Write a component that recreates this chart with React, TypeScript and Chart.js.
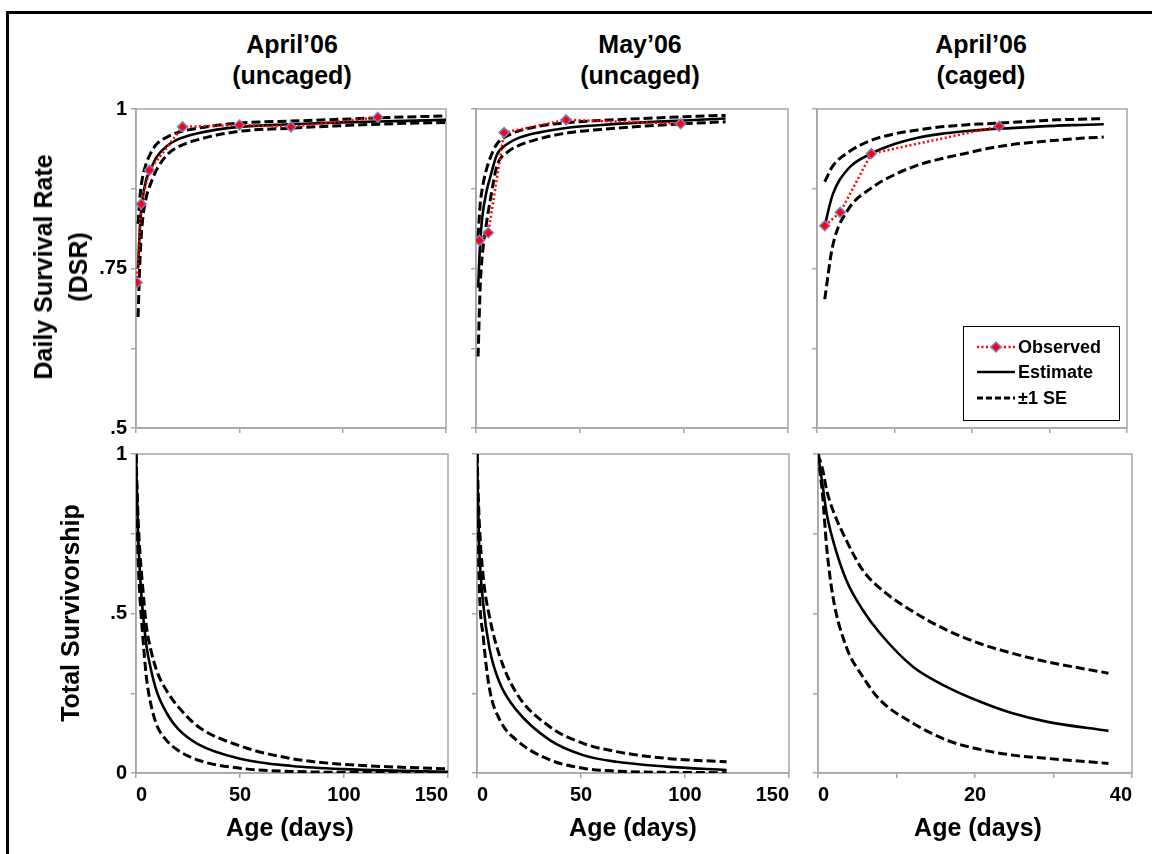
import React, { useEffect, useRef } from "react";
import { Chart, registerables } from "chart.js";
Chart.register(...registerables);

// ---------- DATA ----------
// Top row: Daily Survival Rate (DSR)
const aprUncObsAge = [0.5, 2.5, 6.5, 22.5, 50, 75, 117];
const aprUncObsDsr = [0.728, 0.851, 0.904, 0.972, 0.975, 0.972, 0.987];
const aprUncDsrAge = [1, 2, 3, 5, 7, 10, 15, 20, 30, 50, 75, 100, 125, 150];
const aprUncDsrEst = [0.75, 0.82, 0.855, 0.89, 0.905, 0.925, 0.942, 0.952, 0.962, 0.972, 0.976, 0.979, 0.981, 0.983];
const aprUncDsrUp = [0.82, 0.865, 0.89, 0.915, 0.93, 0.945, 0.956, 0.963, 0.97, 0.978, 0.981, 0.984, 0.987, 0.989];
const aprUncDsrLo = [0.674, 0.77, 0.82, 0.862, 0.882, 0.905, 0.928, 0.94, 0.952, 0.965, 0.97, 0.974, 0.977, 0.979];

const mayUncObsAge = [1.6, 5.9, 13.5, 43.3, 98.4];
const mayUncObsDsr = [0.794, 0.806, 0.963, 0.983, 0.977];
const mayUncDsrAge = [1, 2, 3, 5, 7, 10, 15, 20, 30, 45, 60, 80, 100, 120];
const mayUncDsrEst = [0.72, 0.79, 0.83, 0.87, 0.895, 0.928, 0.945, 0.954, 0.963, 0.971, 0.975, 0.979, 0.982, 0.985];
const mayUncDsrUp = [0.8, 0.85, 0.875, 0.905, 0.925, 0.945, 0.958, 0.965, 0.973, 0.979, 0.982, 0.985, 0.988, 0.99];
const mayUncDsrLo = [0.612, 0.72, 0.77, 0.82, 0.86, 0.91, 0.932, 0.942, 0.953, 0.963, 0.968, 0.973, 0.977, 0.98];

const aprCagObsAge = [1, 3, 7, 23.5];
const aprCagObsDsr = [0.817, 0.838, 0.93, 0.973];
const aprCagDsrAge = [1, 2, 4, 7, 10, 13, 16, 19, 22, 25, 28, 31, 34, 37];
const aprCagDsrEst = [0.817, 0.865, 0.906, 0.93, 0.945, 0.955, 0.961, 0.965, 0.968, 0.97, 0.972, 0.974, 0.975, 0.976];
const aprCagDsrUp = [0.886, 0.91, 0.932, 0.951, 0.961, 0.967, 0.972, 0.975, 0.977, 0.979, 0.981, 0.983, 0.984, 0.985];
const aprCagDsrLo = [0.702, 0.784, 0.842, 0.876, 0.897, 0.912, 0.922, 0.93, 0.938, 0.944, 0.948, 0.951, 0.954, 0.956];

// Bottom row: Total Survivorship
const aprUncSurvAge = [0, 1, 2, 3, 5, 7, 10, 15, 20, 30, 50, 75, 100, 150];
const aprUncSurvEst = [1, 0.75, 0.615, 0.525, 0.4, 0.33, 0.255, 0.185, 0.14, 0.09, 0.045, 0.022, 0.012, 0.004];
const aprUncSurvUp = [1, 0.8, 0.68, 0.6, 0.46, 0.39, 0.32, 0.255, 0.21, 0.145, 0.085, 0.045, 0.027, 0.013];
const aprUncSurvLo = [1, 0.68, 0.54, 0.45, 0.3, 0.22, 0.15, 0.1, 0.072, 0.04, 0.015, 0.005, 0.002, 0.001];

const mayUncSurvAge = [0, 1, 3, 6, 11, 19, 35, 51, 67, 91, 120];
const mayUncSurvEst = [1, 0.72, 0.53, 0.39, 0.281, 0.197, 0.103, 0.056, 0.035, 0.02, 0.009];
const mayUncSurvUp = [1, 0.8, 0.615, 0.49, 0.365, 0.25, 0.145, 0.093, 0.067, 0.046, 0.035];
const mayUncSurvLo = [1, 0.61, 0.427, 0.265, 0.166, 0.103, 0.041, 0.015, 0.006, 0.002, 0.001];

const aprCagSurvAge = [0, 0.6, 1.1, 1.9, 3.6, 5.7, 7.9, 12.1, 16.4, 20.6, 24.8, 29.1, 37];
const aprCagSurvEst = [1, 0.9, 0.814, 0.73, 0.605, 0.511, 0.438, 0.333, 0.27, 0.224, 0.187, 0.161, 0.132];
const aprCagSurvUp = [1, 0.95, 0.887, 0.824, 0.73, 0.636, 0.579, 0.506, 0.448, 0.406, 0.375, 0.349, 0.313];
const aprCagSurvLo = [1, 0.866, 0.709, 0.553, 0.396, 0.302, 0.229, 0.156, 0.103, 0.074, 0.056, 0.046, 0.03];

// Axis ticks / labels
const uncagedXLabels = [0, 50, 100, 150];
const cagedXLabels = [0, 20, 40];
const dsrYLabels: Record<string, string> = { "1": "1", "0.75": ".75", "0.5": ".5" };
const survYLabels: Record<string, string> = { "1": "1", "0.5": ".5", "0": "0" };
const columnTitles = [["April’06", "(uncaged)"], ["May’06", "(uncaged)"], ["April’06", "(caged)"]];
const legendLabels = ["Observed", "Estimate", "±1 SE"];

// ---------- STYLE ----------
const FONT = "'Liberation Sans', Arial, Helvetica, sans-serif";
const GRAY = "#a6a6a6";
const RED = "#ff0000";
const MARKER_EDGE = "#7d7dcc";

function pts(xs: number[], ys: number[]) {
  return xs.map((x, i) => ({ x, y: ys[i] }));
}

function observedSet(xs: number[], ys: number[]) {
  return {
    label: legendLabels[0],
    data: pts(xs, ys),
    borderColor: RED,
    borderWidth: 2.5,
    borderDash: [2, 2.5],
    pointStyle: "rectRot",
    pointRadius: 5,
    pointBackgroundColor: RED,
    pointBorderColor: MARKER_EDGE,
    pointBorderWidth: 1.5,
    tension: 0,
    fill: false,
  };
}

function curveSets(xs: number[], est: number[], up: number[], lo: number[]) {
  const base = { pointRadius: 0, borderColor: "#000", cubicInterpolationMode: "monotone", fill: false };
  return [
    { ...base, label: legendLabels[1], data: pts(xs, est), borderWidth: 2.6 },
    { ...base, label: legendLabels[2], data: pts(xs, up), borderWidth: 3, borderDash: [9, 4] },
    { ...base, label: legendLabels[2] + " low", data: pts(xs, lo), borderWidth: 3, borderDash: [9, 4] },
  ];
}

const framePlugin = {
  id: "frame",
  beforeDatasetsDraw(chart: any) {
    const { ctx, chartArea: a } = chart;
    ctx.save();
    ctx.strokeStyle = GRAY;
    ctx.lineWidth = 1.5;
    ctx.strokeRect(a.left, a.top, a.right - a.left, a.bottom - a.top);
    ctx.restore();
  },
};

const legendPlugin = {
  id: "boxLegend",
  afterDatasetsDraw(chart: any) {
    const { ctx, chartArea: a } = chart;
    const w = 156, h = 94;
    const x0 = Math.round(a.right - 8 - w), y0 = Math.round(a.bottom - 8 - h);
    ctx.save();
    ctx.fillStyle = "#fff";
    ctx.fillRect(x0, y0, w, h);
    ctx.strokeStyle = "#000";
    ctx.lineWidth = 1;
    ctx.strokeRect(x0 + 0.5, y0 + 0.5, w, h);
    const rows = [21, 46, 72];
    const sx0 = x0 + 14, sx1 = x0 + 52;
    // Observed
    ctx.strokeStyle = RED;
    ctx.lineWidth = 2.5;
    ctx.setLineDash([2, 2.5]);
    ctx.beginPath();
    ctx.moveTo(sx0, y0 + rows[0]);
    ctx.lineTo(sx1, y0 + rows[0]);
    ctx.stroke();
    ctx.setLineDash([]);
    const mx = (sx0 + sx1) / 2, my = y0 + rows[0], r = 5;
    ctx.beginPath();
    ctx.moveTo(mx, my - r);
    ctx.lineTo(mx + r, my);
    ctx.lineTo(mx, my + r);
    ctx.lineTo(mx - r, my);
    ctx.closePath();
    ctx.fillStyle = RED;
    ctx.fill();
    ctx.strokeStyle = MARKER_EDGE;
    ctx.lineWidth = 1.5;
    ctx.stroke();
    // Estimate
    ctx.strokeStyle = "#000";
    ctx.lineWidth = 2.6;
    ctx.beginPath();
    ctx.moveTo(sx0, y0 + rows[1]);
    ctx.lineTo(sx1, y0 + rows[1]);
    ctx.stroke();
    // SE
    ctx.lineWidth = 3;
    ctx.setLineDash([6, 3]);
    ctx.beginPath();
    ctx.moveTo(sx0, y0 + rows[2]);
    ctx.lineTo(sx1, y0 + rows[2]);
    ctx.stroke();
    ctx.setLineDash([]);
    ctx.fillStyle = "#000";
    ctx.font = `bold 18px ${FONT}`;
    ctx.textBaseline = "middle";
    ctx.textAlign = "left";
    legendLabels.forEach((t, i) => ctx.fillText(t, x0 + 55, y0 + rows[i] + 1));
    ctx.restore();
  },
};

type PanelProps = {
  cl: number; ct: number; cr: number; cb: number;
  L: number; T: number; R: number; B: number;
  xMax: number; xStep: number; xLabels: number[] | null;
  yMin: number; yStep: number; yLabels: Record<string, string> | null;
  datasets: any[]; legend?: boolean;
};

function Panel(p: PanelProps) {
  const ref = useRef<HTMLCanvasElement>(null);
  const W = p.cr - p.cl + p.L + p.R;
  const H = p.cb - p.ct + p.T + p.B;
  useEffect(() => {
    const tickFont = { family: FONT, size: 20, weight: "bold" as const };
    const chart = new Chart(ref.current as HTMLCanvasElement, {
      type: "line",
      data: { datasets: p.datasets },
      options: {
        animation: false,
        responsive: false,
        devicePixelRatio: 1,
        events: [],
        layout: { padding: { top: p.T, right: p.R, left: 0, bottom: 0 } },
        plugins: { legend: { display: false }, tooltip: { enabled: false }, title: { display: false } },
        scales: {
          x: {
            type: "linear",
            min: 0,
            max: p.xMax,
            ticks: {
              stepSize: p.xStep,
              autoSkip: false,
              maxRotation: 0,
              padding: 5,
              align: "inner",
              color: "#000",
              font: tickFont,
              callback: (v: any) => (p.xLabels && p.xLabels.includes(Number(v)) ? String(v) : ""),
            },
            grid: { drawOnChartArea: false, drawTicks: true, tickLength: 5, color: GRAY, lineWidth: 1.5 },
            border: { color: GRAY, width: 1.5 },
            afterFit: (s: any) => { s.height = p.B; },
          },
          y: {
            type: "linear",
            min: p.yMin,
            max: 1,
            ticks: {
              stepSize: p.yStep,
              autoSkip: false,
              padding: 4,
              color: "#000",
              font: tickFont,
              callback: (v: any) => (p.yLabels ? p.yLabels[String(v)] ?? "" : ""),
            },
            grid: { drawOnChartArea: false, drawTicks: true, tickLength: 5, color: GRAY, lineWidth: 1.5 },
            border: { color: GRAY, width: 1.5 },
            afterFit: (s: any) => { s.width = p.L; },
          },
        },
      } as any,
      plugins: p.legend ? [framePlugin, legendPlugin] : [framePlugin],
    });
    return () => chart.destroy();
  }, []);
  return (
    <canvas
      ref={ref}
      width={W}
      height={H}
      style={{ position: "absolute", left: p.cl - p.L, top: p.ct - p.T, width: W, height: H }}
    />
  );
}

const textBase: React.CSSProperties = {
  position: "absolute",
  fontFamily: FONT,
  fontWeight: "bold",
  color: "#000",
  whiteSpace: "nowrap",
  textAlign: "center",
};

function Label(props: { x: number; y: number; lines: string[]; size: number; lh: number; rotate?: boolean }) {
  return (
    <div
      style={{
        ...textBase,
        left: props.x,
        top: props.y,
        fontSize: props.size,
        lineHeight: props.lh + "px",
        transform: `translate(-50%, -50%)${props.rotate ? " rotate(-90deg)" : ""}`,
      }}
    >
      {props.lines.map((l, i) => (
        <div key={i}>{l}</div>
      ))}
    </div>
  );
}

export default function App() {
  const topRow = { ct: 109, cb: 428, T: 16, B: 16, yMin: 0.5, yStep: 0.125 };
  const botRow = { ct: 454, cb: 773, T: 16, B: 45, yMin: 0, yStep: 0.25 };
  return (
    <div style={{ position: "absolute", left: 0, top: 0, width: 1152, height: 854, overflow: "hidden", background: "#fff" }}>
      <div
        style={{
          position: "absolute", left: 6, top: 11, width: 1146, height: 843,
          borderTop: "3px solid #000", borderLeft: "3px solid #000", boxSizing: "border-box",
        }}
      />
      {/* Top row: DSR */}
      <Panel {...topRow} cl={136} cr={446} L={50} R={16} xMax={150} xStep={50} xLabels={null} yLabels={dsrYLabels}
        datasets={[observedSet(aprUncObsAge, aprUncObsDsr), ...curveSets(aprUncDsrAge, aprUncDsrEst, aprUncDsrUp, aprUncDsrLo)]} />
      <Panel {...topRow} cl={476} cr={788} L={10} R={16} xMax={150} xStep={50} xLabels={null} yLabels={null}
        datasets={[observedSet(mayUncObsAge, mayUncObsDsr), ...curveSets(mayUncDsrAge, mayUncDsrEst, mayUncDsrUp, mayUncDsrLo)]} />
      <Panel {...topRow} cl={817} cr={1127} L={10} R={16} xMax={40} xStep={10} xLabels={null} yLabels={null} legend
        datasets={[observedSet(aprCagObsAge, aprCagObsDsr), ...curveSets(aprCagDsrAge, aprCagDsrEst, aprCagDsrUp, aprCagDsrLo)]} />
      {/* Bottom row: Total survivorship */}
      <Panel {...botRow} cl={136} cr={448} L={50} R={16} xMax={150} xStep={50} xLabels={uncagedXLabels} yLabels={survYLabels}
        datasets={curveSets(aprUncSurvAge, aprUncSurvEst, aprUncSurvUp, aprUncSurvLo)} />
      <Panel {...botRow} cl={477} cr={789} L={14} R={16} xMax={150} xStep={50} xLabels={uncagedXLabels} yLabels={null}
        datasets={curveSets(mayUncSurvAge, mayUncSurvEst, mayUncSurvUp, mayUncSurvLo)} />
      <Panel {...botRow} cl={818} cr={1132} L={14} R={16} xMax={40} xStep={10} xLabels={cagedXLabels} yLabels={null}
        datasets={curveSets(aprCagSurvAge, aprCagSurvEst, aprCagSurvUp, aprCagSurvLo)} />

      {/* Column titles */}
      <Label x={292} y={60} lines={columnTitles[0]} size={25} lh={31} />
      <Label x={640} y={60} lines={columnTitles[1]} size={25} lh={31} />
      <Label x={981} y={60} lines={columnTitles[2]} size={25} lh={31} />
      {/* Y axis titles */}
      <Label x={61} y={267} lines={["Daily Survival Rate", "(DSR)"]} size={25} lh={35} rotate />
      <Label x={70} y={613} lines={["Total Survivorship"]} size={25} lh={30} rotate />
      {/* X axis titles */}
      <Label x={290} y={827} lines={["Age (days)"]} size={25} lh={30} />
      <Label x={633} y={827} lines={["Age (days)"]} size={25} lh={30} />
      <Label x={978} y={827} lines={["Age (days)"]} size={25} lh={30} />
    </div>
  );
}
